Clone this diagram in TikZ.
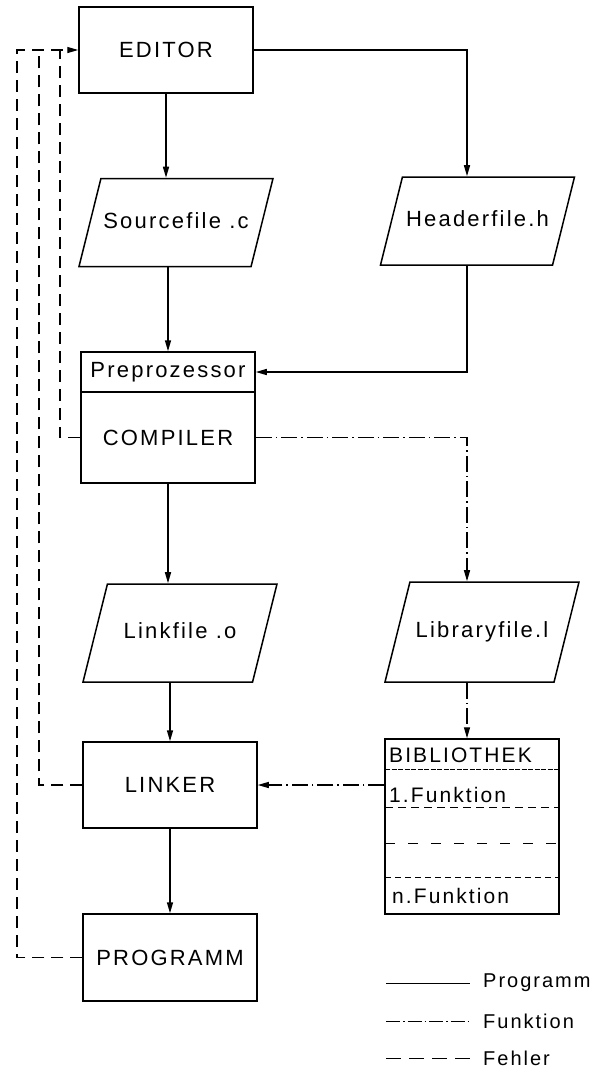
\documentclass[tikz,border=0pt]{standalone}
\usepackage{fontspec}
\newfontfamily\lettering[LetterSpace=10]{Liberation Sans}
\usetikzlibrary{arrows.meta}
\usetikzlibrary{shapes.geometric}

\begin{document}
\begin{tikzpicture}[x=1pt,y=-1pt]
  \tikzset{%
  tipA/.tip={Triangle[length=11pt,width=6pt]},
}
  \tikzset{box/.style = {shape=rectangle,draw,line width=1.5pt,minimum width=174pt,minimum height=86pt,inner sep=1pt,font=\lettering\fontsize{22}{26}\selectfont}}
  \tikzset{file/.style = {shape=trapezium,trapezium left angle=76,trapezium right angle=104,trapezium stretches body,draw,line width=1.5pt,minimum width=194pt,text height=15pt,text depth=4pt,inner xsep=1pt,inner ysep=34.5pt,font=\lettering\fontsize{22}{26}\selectfont}}
  \tikzset{libtext/.style = {anchor=west,inner sep=0pt,font=\lettering\fontsize{21}{25}\selectfont}}
  \tikzset{legtext/.style = {anchor=west,inner xsep=13pt,inner ysep=0pt,font=\lettering\fontsize{20}{24}\selectfont}}
  \tikzset{prog/.style = {line width=1.5pt,-tipA}}
  \tikzset{funk/.style = {line width=1.3pt,dash pattern=on 16pt off 4pt on 1.5pt off 4pt}}
  \tikzset{fehler/.style = {line width=1.3pt,dash pattern=on 12pt off 7pt}}

  \useasboundingbox (0,0) rectangle (607,1074);

	\node[box] (Editor) at (166,50) {EDITOR};
	\node[file] (Src) at (176,222.5) {Sourcefile .c};
	\node[file] (Hdr) at (477.5,221) {Headerfile.h};

	\node[box,minimum height=40pt] (Pre) at (168,372) {Preprozessor};
	\node[box,minimum height=91pt] (Comp) at (168,437.5) {COMPILER};

	\node[file,inner ysep=39.5pt] (Link) at (180,633) {Linkfile .o};
	\node[file,inner ysep=40.5pt] (Lib) at (482,632) {Libraryfile.l};

	\node[box] (Linker) at (170,785) {LINKER};
	\node[box,minimum height=87pt] (Prog) at (170,957.5) {PROGRAMM};

	% Bibliothek
	\node[draw,line width=1.5pt,minimum width=174pt,minimum height=175pt] (Bib) at (472,826.5) {};
	\node[libtext] (BibT) at (389,755) {BIBLIOTHEK};
	\node[libtext] (BibA) at (389,795) {1.Funktion};
	\node[libtext] (BibN) at (392,896) {n.Funktion};
	\draw[line width=1pt,dash pattern=on 5pt off 1.5pt] (385,769) -- (559,769);
	\draw[line width=1pt,dash pattern=on 8pt off 5pt] (385,807) -- (559,807);
	\draw[line width=1pt,dash pattern=on 10pt off 13pt] (385,843) -- (559,843);
	\draw[line width=1pt,dash pattern=on 6pt off 4pt] (385,877) -- (559,877);

	\coordinate (rcol) at (467,50);
	\coordinate (f1) at (17,50);
	\coordinate (f2) at (39,50);
	\coordinate (f3) at (60,50);

    % Programm
    \draw[prog] (Editor) -- (Editor |- Src.north);
    \draw[prog] (Editor.east) -| (rcol |- Hdr.north);
    \draw[prog] (Pre |- Src.south) -- (Pre);
    \draw[prog] (rcol |- Hdr.south) |- (Pre.east);
    \draw[prog] (Comp) -- (Comp |- Link.north);
    \draw[prog] (Linker |- Link.south) -- (Linker);
    \foreach \from/\to in {Linker/Prog}
    \draw[prog] (\from) -- (\to);

    % Funktion
    \draw[funk,-tipA] (Comp.east) -| (rcol |- Lib.north);
    \draw[funk,-tipA] (rcol |- Lib.south) -- (rcol |- Bib.north);
    \draw[funk,-tipA] (Bib.west |- Linker.east) -- (Linker.east);

    % Fehler
    \draw[fehler,-tipA] (Prog.west) -| (f1) -- (Editor.west);
    \draw[fehler] (Linker.west) -| (f2);
    \draw[fehler] (Comp.west) -| (f3);

    % Legende
    \node[legtext] (LgProg) at (470,983) {Programm};
    \node[legtext] (LgFunk) at (470,1021) {Funktion};
    \node[legtext] (LgFehl) at (470,1058) {Fehler};
    \coordinate (LgA) at (386,983);
    \coordinate (LgB) at (386,1021);
    \coordinate (LgC) at (386,1058);
    \draw[line width=1pt] (LgA) -- (LgProg.west);
    \draw[funk,line width=1pt,dash pattern=on 14pt off 3pt on 1.5pt off 3pt] (LgB) -- (LgFunk.west);
    \draw[fehler,line width=1pt,dash pattern=on 15pt off 8pt] (LgC) -- (LgFehl.west);

\end{tikzpicture}
\end{document}
